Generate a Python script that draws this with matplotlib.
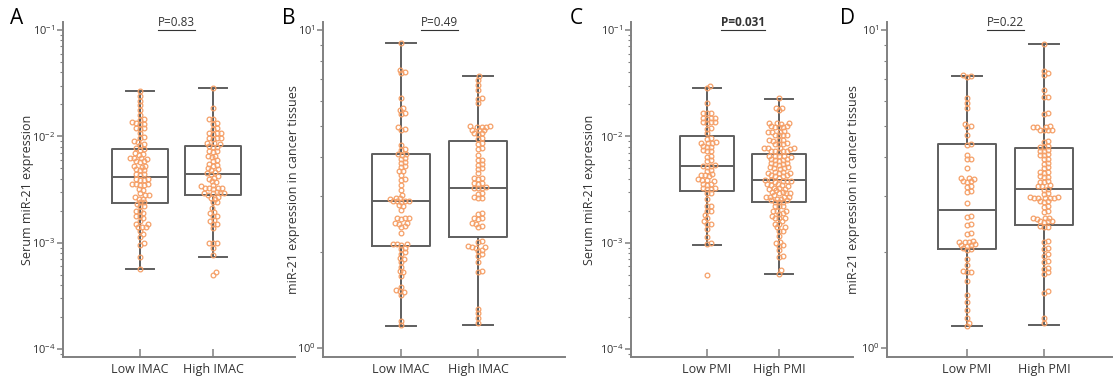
import numpy as np
import matplotlib
matplotlib.use("Agg")
import matplotlib.pyplot as plt
from matplotlib.lines import Line2D

plt.rcParams['font.family'] = ['Open Sans', 'DejaVu Sans']
plt.rcParams['mathtext.default'] = 'regular'

groups_imac = ['Low IMAC', 'High IMAC']
groups_pmi = ['Low PMI', 'High PMI']

# panel A: serum miR-21 by IMAC
a_low = [0.0268, 0.0240, 0.0217, 0.0197, 0.0177, 0.0159, 0.0146, 0.0143, 0.0135, 0.0134,
         0.0132, 0.0131, 0.0121, 0.0119, 0.0118, 0.0107, 0.0099, 0.0097, 0.0090, 0.0088,
         0.0084, 0.0082, 0.0077, 0.0076, 0.0074, 0.0069, 0.0068, 0.0067, 0.0063, 0.0062,
         0.0062, 0.0061, 0.0058, 0.0057, 0.0058, 0.0053, 0.0052, 0.0053, 0.0049, 0.0048,
         0.0048, 0.0044, 0.0044, 0.0043, 0.0040, 0.0039, 0.0039, 0.0040, 0.0036, 0.0036,
         0.0035, 0.0035, 0.0036, 0.0032, 0.0031, 0.0028, 0.0028, 0.0029, 0.0026, 0.0026,
         0.0027, 0.0024, 0.0024, 0.0023, 0.0022, 0.0022, 0.0020, 0.0020, 0.0018, 0.0018,
         0.0019, 0.0017, 0.0016, 0.0015, 0.0015, 0.0014, 0.0014, 0.0014, 0.0013, 0.0012,
         0.00114, 0.0010, 0.00096, 0.00074, 0.00056]
a_high = [0.0282, 0.0184, 0.0146, 0.0144, 0.0134, 0.0132, 0.0120, 0.0118, 0.0108, 0.0107,
          0.0106, 0.0107, 0.0097, 0.0096, 0.0095, 0.0096, 0.0087, 0.0086, 0.0085, 0.0080,
          0.0081, 0.0079, 0.0072, 0.0073, 0.0071, 0.0065, 0.0066, 0.0064, 0.0060, 0.0059,
          0.0054, 0.0055, 0.0053, 0.0049, 0.0050, 0.0048, 0.0045, 0.0046, 0.0044, 0.0041,
          0.0042, 0.0040, 0.0037, 0.0038, 0.0035, 0.0034, 0.00325, 0.0033, 0.0032, 0.00325,
          0.0033, 0.0029, 0.0029, 0.0030, 0.0029, 0.0028, 0.0029, 0.00265, 0.0027, 0.0026,
          0.0024, 0.0024, 0.0021, 0.00196, 0.0019, 0.00178, 0.0018, 0.00163, 0.0016, 0.0015,
          0.0015, 0.00136, 0.0010, 0.0010, 0.00099, 0.00089, 0.00077, 0.00053, 0.00050]

# panel B: tissue miR-21 by IMAC
b_low = [9.1, 7.5, 7.4, 7.3, 6.12, 5.7, 5.6, 5.5, 5.45, 4.95, 4.9, 4.85, 4.35, 4.22, 4.18,
         4.08, 4.07, 4.05, 3.96, 3.94, 3.84, 3.82, 3.73, 3.71, 3.61, 3.59, 3.50, 3.39, 3.37,
         3.26, 3.14, 3.03, 2.97, 2.96, 2.95, 2.90, 2.89, 2.89, 2.88, 2.90, 2.81, 2.79, 2.72,
         2.57, 2.56, 2.55, 2.56, 2.48, 2.47, 2.46, 2.42, 2.40, 2.30, 2.13, 2.12, 2.11, 2.12,
         2.07, 2.05, 2.00, 1.98, 1.92, 1.90, 1.86, 1.80, 1.75, 1.73, 1.69, 1.56, 1.52, 1.51,
         1.50, 1.47, 1.22, 1.18]
b_high = [7.15, 6.96, 6.72, 6.48, 6.10, 6.08, 5.88, 4.98, 4.97, 4.96, 4.97, 4.98, 4.86, 4.85,
          4.84, 4.74, 4.73, 4.72, 4.57, 4.55, 4.41, 4.39, 4.26, 4.24, 4.04, 3.91, 3.89, 3.79,
          3.77, 3.67, 3.65, 3.54, 3.43, 3.42, 3.41, 3.31, 3.30, 3.29, 3.20, 3.19, 3.18, 3.19,
          3.07, 3.05, 2.98, 2.97, 2.96, 2.66, 2.64, 2.57, 2.56, 2.55, 2.48, 2.46, 2.42, 2.40,
          2.17, 2.15, 2.09, 2.08, 2.07, 2.08, 2.04, 2.02, 1.97, 1.95, 1.87, 1.75, 1.73, 1.33,
          1.29, 1.24, 1.20]

# panel C: serum miR-21 by PMI
c_low = [0.0300, 0.0285, 0.0205, 0.0166, 0.0165, 0.0164, 0.0149, 0.0148, 0.0147, 0.0148,
         0.0136, 0.0135, 0.0134, 0.0135, 0.0120, 0.0118, 0.0108, 0.0097, 0.0095, 0.0088,
         0.0087, 0.0086, 0.0087, 0.0081, 0.0080, 0.0079, 0.0074, 0.0073, 0.0072, 0.0066,
         0.0064, 0.0060, 0.0058, 0.0054, 0.0053, 0.0052, 0.0053, 0.0048, 0.0047, 0.0044,
         0.0043, 0.0043, 0.0042, 0.0040, 0.0039, 0.0039, 0.0038, 0.0036, 0.0036, 0.0035,
         0.0033, 0.0032, 0.0032, 0.0033, 0.0029, 0.0029, 0.00256, 0.0022, 0.0022, 0.0020,
         0.0020, 0.00182, 0.0017, 0.0016, 0.0015, 0.0015, 0.00134, 0.00114, 0.0010, 0.00097,
         0.00050]
c_high = [0.0228, 0.0185, 0.0183, 0.0175, 0.0134, 0.0133, 0.0132, 0.0133, 0.0124, 0.0123,
          0.0122, 0.0123, 0.0124, 0.0112, 0.0111, 0.0110, 0.0111, 0.0104, 0.0103, 0.0102,
          0.0103, 0.0093, 0.0092, 0.0091, 0.0092, 0.0086, 0.0085, 0.0084, 0.0085, 0.0078,
          0.0077, 0.0076, 0.0077, 0.0078, 0.0073, 0.0072, 0.0071, 0.0072, 0.0073, 0.0066,
          0.0065, 0.0064, 0.0065, 0.0066, 0.0061, 0.0060, 0.0059, 0.0060, 0.0061, 0.0056,
          0.0055, 0.0054, 0.0055, 0.0056, 0.0051, 0.0050, 0.0049, 0.0050, 0.0051, 0.0046,
          0.00456, 0.0045, 0.0046, 0.0045, 0.0043, 0.0042, 0.0041, 0.0042, 0.0043, 0.0039,
          0.0038, 0.0037, 0.0038, 0.0039, 0.0038, 0.0036, 0.0035, 0.0034, 0.0035, 0.0036,
          0.0033, 0.0032, 0.0031, 0.0032, 0.0033, 0.0030, 0.0029, 0.0028, 0.0029, 0.0030,
          0.0029, 0.0027, 0.00267, 0.0026, 0.0027, 0.0026, 0.0027, 0.0025, 0.0024, 0.0024,
          0.0025, 0.0024, 0.0022, 0.0022, 0.0022, 0.0020, 0.0020, 0.0020, 0.00186, 0.0019,
          0.0018, 0.0017, 0.0017, 0.0017, 0.0015, 0.0015, 0.0016, 0.0014, 0.0014, 0.0013,
          0.0013, 0.00116, 0.00102, 0.0010, 0.00095, 0.00094, 0.00086, 0.00075, 0.00074,
          0.00055, 0.00051]

# panel D: tissue miR-21 by PMI
d_low = [7.15, 7.2, 7.1, 6.1, 5.88, 5.67, 5.08, 4.98, 4.96, 4.68, 4.38, 4.36, 4.04, 3.94,
         3.92, 3.67, 3.43, 3.42, 3.41, 3.35, 3.34, 3.33, 3.23, 3.21, 3.11, 3.09, 2.85, 2.60,
         2.58, 2.45, 2.43, 2.30, 2.28, 2.17, 2.16, 2.15, 2.16, 2.12, 2.11, 2.10, 2.11, 2.06,
         2.05, 2.04, 1.91, 1.82, 1.75, 1.74, 1.73, 1.62, 1.47, 1.40, 1.32, 1.24, 1.20, 1.17]
d_high = [9.05, 7.45, 7.30, 7.21, 6.48, 6.17, 6.15, 5.48, 5.46, 4.98, 4.97, 4.96, 4.97, 4.86,
          4.85, 4.84, 4.85, 4.47, 4.45, 4.31, 4.30, 4.29, 4.18, 4.17, 4.16, 4.06, 4.05, 4.04,
          3.94, 3.92, 3.82, 3.80, 3.70, 3.68, 3.58, 3.57, 3.56, 3.47, 3.46, 3.45, 3.34, 3.33,
          3.32, 3.25, 3.24, 3.23, 3.17, 3.15, 3.07, 3.05, 2.98, 2.97, 2.96, 2.97, 2.98, 2.96,
          2.97, 2.90, 2.89, 2.88, 2.79, 2.77, 2.69, 2.67, 2.57, 2.56, 2.55, 2.56, 2.51, 2.50,
          2.49, 2.50, 2.42, 2.41, 2.40, 2.17, 2.15, 2.07, 2.05, 1.97, 1.95, 1.88, 1.86, 1.79,
          1.77, 1.73, 1.71, 1.51, 1.49, 1.24, 1.20]

# box statistics: whislo, q1, med, q3, whishi
box_a = [[5.6e-4, 2.34e-3, 4.17e-3, 7.55e-3, 2.68e-2], [7.4e-4, 2.79e-3, 4.43e-3, 8.1e-3, 2.82e-2]]
box_b = [[1.17, 2.09, 2.90, 4.07, 9.08], [1.18, 2.23, 3.18, 4.47, 7.14]]
box_c = [[9.6e-4, 3.06e-3, 5.3e-3, 1.01e-2, 2.85e-2], [5.1e-4, 2.39e-3, 3.88e-3, 6.78e-3, 2.26e-2]]
box_d = [[1.17, 2.05, 2.72, 4.38, 7.14], [1.18, 2.44, 3.16, 4.25, 9.06]]

p_values = ['P=0.83', 'P=0.49', 'P=0.031', 'P=0.22']
letters = ['A', 'B', 'C', 'D']
ylabels = ['Serum miR-21 expression', 'miR-21 expression in cancer tissues',
           'Serum miR-21 expression', 'miR-21 expression in cancer tissues']

W, H = 1118, 378
fig = plt.figure(figsize=(W / 100, H / 100), dpi=100)

# pixel layout: left, right, first category x, category spacing, ylabel x, letter x
layout = [(63, 295, 140, 73, 27, 10), (323, 565, 401, 77, 293, 282),
          (631, 853, 707, 72, 590, 570), (887, 1112, 967, 77, 853, 840)]
top_px, bot_px = 22, 357

panels = [
    (a_low, a_high, box_a, groups_imac, (10 ** -4.075, 10 ** -0.925)),
    (b_low, b_high, box_b, groups_imac, (10 ** -0.028, 10 ** 1.025)),
    (c_low, c_high, box_c, groups_pmi, (10 ** -4.075, 10 ** -0.925)),
    (d_low, d_high, box_d, groups_pmi, (10 ** -0.028, 10 ** 1.025)),
]

box_col = '#5e5e5e'
spine_col = '#808080'
dot_col = '#f5a068'
txt_col = '#333333'


def swarm_offsets(ypix, d):
    # simple beeswarm: put each point as close to the centre as possible
    placed = []
    xs = np.zeros(len(ypix))
    for i in np.argsort(ypix):
        y = ypix[i]
        near = [(px, py) for px, py in placed if abs(py - y) < d]
        cands = [0.0]
        for px, py in near:
            dx = np.sqrt(d * d - (py - y) ** 2)
            cands += [px + dx, px - dx]
        cands.sort(key=abs)
        for c in cands:
            if all((c - px) ** 2 + (y - py) ** 2 >= d * d - 1e-6 for px, py in near):
                break
        placed.append((c, y))
        xs[i] = c
    return xs


axes = []
for k, (low, high, stats, labels, ylim) in enumerate(panels):
    left, right, x_low, step, ylab_x, let_x = layout[k]
    ax = fig.add_axes([left / W, 1 - bot_px / H, (right - left) / W, (bot_px - top_px) / H])
    ax.set_yscale('log')
    ax.set_ylim(*ylim)
    ax.set_xlim(-(x_low - left) / step, (right - x_low) / step)

    bstats = []
    for s, lab in zip(stats, labels):
        bstats.append(dict(whislo=s[0], q1=s[1], med=s[2], q3=s[3], whishi=s[4], label=lab, fliers=[]))
    ax.bxp(bstats, positions=[0, 1], widths=0.76, showfliers=False,
           boxprops=dict(color=box_col, lw=1.4),
           whiskerprops=dict(color=box_col, lw=1.4),
           capprops=dict(color=box_col, lw=1.4),
           medianprops=dict(color=box_col, lw=1.4))

    for pos, vals in zip([0, 1], [low, high]):
        vals = np.array(vals)
        pts = ax.transData.transform(np.column_stack([np.full(len(vals), pos), vals]))
        off = swarm_offsets(pts[:, 1], 4.0)
        xd = ax.transData.inverted().transform(np.column_stack([pts[:, 0] + off, pts[:, 1]]))[:, 0]
        ax.plot(xd, vals, 'o', ms=3.4, mfc='none', mec=dot_col, mew=0.9, zorder=5)

    ax.set_xticks([0, 1])
    ax.set_xticklabels(labels)
    for side in ['top', 'right']:
        ax.spines[side].set_visible(False)
    for side in ['left', 'bottom']:
        ax.spines[side].set_color(spine_col)
        ax.spines[side].set_linewidth(1.4)
    ax.tick_params(axis='x', direction='in', length=6, width=1.1, color=spine_col,
                   labelsize=9, labelcolor=txt_col, pad=4)
    ax.tick_params(axis='y', which='major', direction='out', length=4, width=1.1,
                   color=spine_col, labelsize=8, labelcolor=txt_col, pad=1.5)
    ax.tick_params(axis='y', which='minor', direction='out', length=2, width=0.8, color=spine_col)
    ax.set_ylabel(ylabels[k], fontsize=9, color=txt_col)
    ax.yaxis.label.set_verticalalignment('center')
    ax.yaxis.set_label_coords((ylab_x - left) / (right - left), 0.5)

    ax.text(0.5, 1.0, p_values[k], ha='center', va='center', fontsize=8.5, color=txt_col,
            fontweight='bold' if k == 2 else 'normal',
            transform=ax.get_xaxis_transform(), clip_on=False)
    fig.text(let_x / W, 1 - 19 / H, letters[k], fontsize=15, ha='left', va='center', color='black')
    axes.append(ax)

# underline the P values
fig.canvas.draw()
r = fig.canvas.get_renderer()
for ax in axes:
    for t in ax.texts:
        bb = t.get_window_extent(r)
        y = bb.y0 - 1
        fig.add_artist(Line2D([bb.x0 / W, bb.x1 / W], [y / H, y / H], color=txt_col, lw=0.8))

fig.savefig('out.png', dpi=100)
